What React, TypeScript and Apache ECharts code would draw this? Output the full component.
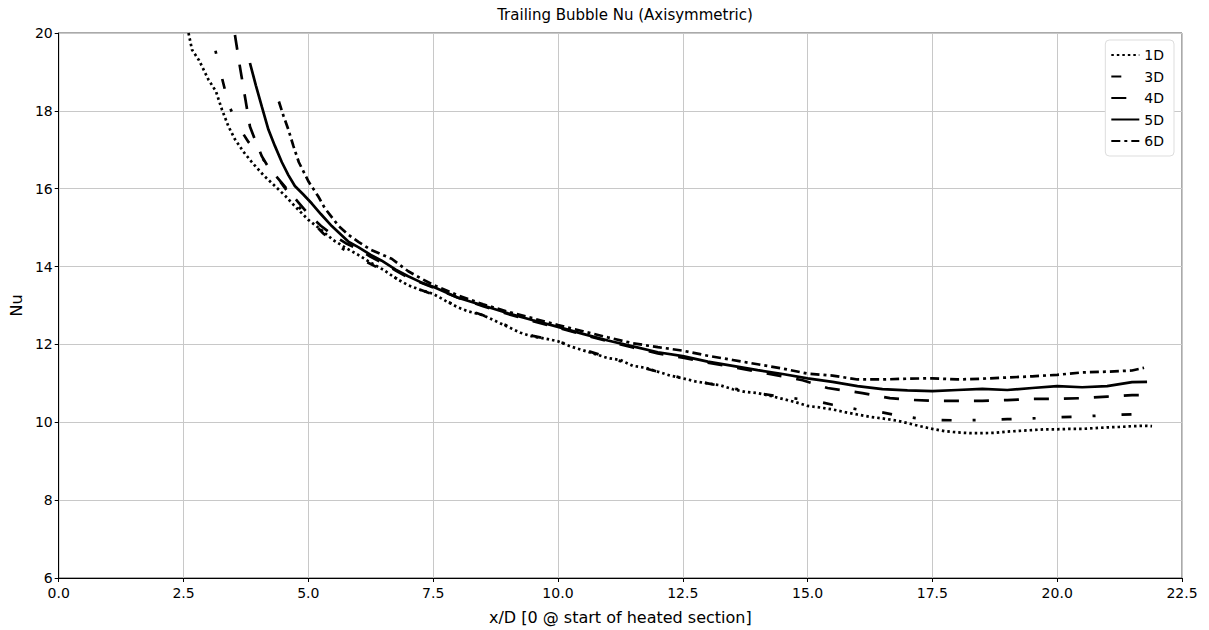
import React, { useEffect, useRef } from "react";
import * as echarts from "echarts";

const seriesNames = ["1D", "3D", "4D", "5D", "6D"];

const d1: number[][] = [
  [2.6, 20.0], [2.67, 19.57], [2.81, 19.3], [3.0, 18.8], [3.15, 18.5], [3.27, 18.03], [3.4, 17.6],
  [3.53, 17.27], [3.7, 16.95], [3.87, 16.68], [4.1, 16.35], [4.33, 16.07], [4.55, 15.8], [4.73, 15.55],
  [5.0, 15.2], [5.25, 14.95], [5.5, 14.68], [5.75, 14.48], [6.0, 14.3], [6.25, 14.1], [6.5, 13.92],
  [6.75, 13.7], [7.0, 13.52], [7.25, 13.4], [7.5, 13.3], [7.75, 13.12], [8.0, 12.95], [8.2, 12.85],
  [8.5, 12.75], [8.75, 12.6], [9.0, 12.45], [9.25, 12.3], [9.5, 12.2], [9.75, 12.15], [10.0, 12.08],
  [10.25, 11.95], [10.5, 11.85], [10.75, 11.75], [11.0, 11.65], [11.25, 11.6], [11.5, 11.45],
  [11.75, 11.4], [12.0, 11.3], [12.25, 11.2], [12.5, 11.13], [12.75, 11.05], [13.0, 11.0],
  [13.25, 10.95], [13.5, 10.85], [13.75, 10.78], [14.0, 10.75], [14.25, 10.68], [14.5, 10.6],
  [14.75, 10.52], [15.0, 10.42], [15.25, 10.38], [15.5, 10.33], [15.75, 10.26], [16.0, 10.2],
  [16.25, 10.14], [16.5, 10.1], [16.8, 10.04], [17.0, 9.98], [17.25, 9.9], [17.5, 9.83], [17.75, 9.77],
  [18.0, 9.74], [18.25, 9.72], [18.5, 9.72], [18.75, 9.73], [19.0, 9.76], [19.25, 9.78], [19.5, 9.8],
  [19.75, 9.82], [20.0, 9.82], [20.25, 9.83], [20.5, 9.83], [20.75, 9.85], [21.0, 9.87], [21.25, 9.88],
  [21.5, 9.9], [21.75, 9.91], [21.9, 9.9],
];

const d3: number[][] = [
  [2.95, 20.3], [3.13, 19.6], [3.23, 19.05], [3.33, 18.54], [3.43, 18.08], [3.6, 17.6], [3.8, 17.2],
  [4.03, 16.88], [4.2, 16.55], [4.37, 16.3], [4.6, 15.9], [4.8, 15.55], [5.0, 15.25], [5.3, 14.85],
  [5.63, 14.5], [5.97, 14.25], [6.5, 13.9], [7.0, 13.52], [7.5, 13.28], [8.0, 12.97], [8.5, 12.75],
  [9.0, 12.47], [9.5, 12.22], [10.0, 12.08], [10.5, 11.87], [11.0, 11.67], [11.5, 11.47], [12.0, 11.3],
  [12.5, 11.13], [13.0, 11.0], [13.5, 10.87], [14.0, 10.75], [14.5, 10.65], [15.15, 10.55],
  [15.5, 10.45], [16.0, 10.33], [16.35, 10.29], [16.75, 10.19], [17.2, 10.1], [17.5, 10.06],
  [18.0, 10.05], [18.5, 10.06], [19.0, 10.08], [19.5, 10.1], [20.0, 10.13], [20.5, 10.15],
  [21.0, 10.18], [21.6, 10.21],
];

const d4: number[][] = [
  [3.53, 19.95], [3.63, 19.13], [3.73, 18.37], [3.83, 17.6], [3.95, 17.2], [4.07, 16.83], [4.2, 16.55],
  [4.37, 16.3], [4.6, 15.95], [4.8, 15.65], [5.0, 15.35], [5.25, 15.05], [5.5, 14.8], [5.75, 14.6],
  [6.0, 14.45], [6.25, 14.25], [6.5, 14.08], [6.75, 13.9], [7.0, 13.72], [7.5, 13.46], [8.0, 13.2],
  [8.5, 12.98], [9.0, 12.78], [9.5, 12.6], [10.0, 12.43], [10.5, 12.25], [11.0, 12.08], [11.5, 11.92],
  [12.0, 11.77], [12.5, 11.66], [13.0, 11.53], [13.5, 11.42], [14.0, 11.3], [14.5, 11.18],
  [14.9, 11.08], [15.4, 10.88], [16.1, 10.75], [16.65, 10.62], [17.0, 10.58], [17.5, 10.55],
  [18.0, 10.55], [18.5, 10.55], [19.0, 10.57], [19.5, 10.6], [20.0, 10.6], [20.5, 10.62],
  [21.0, 10.66], [21.5, 10.7], [21.7, 10.7],
];

const d5: number[][] = [
  [3.83, 19.23], [3.95, 18.65], [4.07, 18.1], [4.2, 17.52], [4.33, 17.1], [4.47, 16.68], [4.6, 16.35],
  [4.73, 16.07], [4.9, 15.85], [5.07, 15.62], [5.25, 15.35], [5.47, 15.04], [5.81, 14.63], [6.0, 14.5],
  [6.25, 14.3], [6.47, 14.15], [6.75, 13.92], [7.0, 13.75], [7.25, 13.6], [7.5, 13.48], [8.0, 13.2],
  [8.5, 13.0], [9.0, 12.8], [9.5, 12.62], [10.0, 12.45], [10.5, 12.27], [11.0, 12.1], [11.5, 11.95],
  [12.0, 11.8], [12.5, 11.7], [13.0, 11.56], [13.5, 11.45], [14.0, 11.34], [14.5, 11.24],
  [15.0, 11.13], [15.5, 11.04], [16.0, 10.93], [16.5, 10.85], [17.0, 10.82], [17.5, 10.8],
  [18.0, 10.83], [18.5, 10.86], [19.0, 10.83], [19.5, 10.88], [20.0, 10.93], [20.5, 10.9],
  [21.0, 10.93], [21.5, 11.03], [21.8, 11.04],
];

const d6: number[][] = [
  [4.41, 18.24], [4.5, 17.88], [4.6, 17.52], [4.7, 17.1], [4.81, 16.68], [5.01, 16.17], [5.2, 15.8],
  [5.33, 15.5], [5.61, 15.04], [5.8, 14.82], [6.01, 14.63], [6.25, 14.43], [6.67, 14.2], [7.0, 13.88],
  [7.25, 13.7], [7.5, 13.53], [8.0, 13.26], [8.5, 13.03], [9.0, 12.84], [9.5, 12.67], [10.0, 12.5],
  [10.5, 12.34], [11.0, 12.18], [11.5, 12.03], [12.0, 11.93], [12.5, 11.84], [13.0, 11.71],
  [13.5, 11.6], [14.0, 11.49], [14.5, 11.38], [15.0, 11.25], [15.5, 11.2], [16.0, 11.1],
  [16.5, 11.1], [17.0, 11.12], [17.5, 11.13], [18.0, 11.1], [18.5, 11.12], [19.0, 11.15],
  [19.5, 11.18], [20.0, 11.22], [20.5, 11.28], [21.0, 11.3], [21.5, 11.33], [21.74, 11.4],
];

const seriesData = [d1, d3, d4, d5, d6];
const dashTypes: any[] = [
  [2.5, 3],
  [10, 21, 3, 26],
  [15, 15],
  "solid",
  [9, 4, 3, 4],
];

const xTicks = { min: 0, max: 22.5, interval: 2.5 };
const yTicks = { min: 6, max: 20, interval: 2 };

const FONT = "DejaVu Sans";

export default function App() {
  const ref = useRef<HTMLDivElement>(null);
  useEffect(() => {
    if (!ref.current) return;
    const chart = echarts.init(ref.current, undefined, { renderer: "svg" });
    chart.setOption({
      animation: false,
      backgroundColor: "#ffffff",
      textStyle: { fontFamily: FONT },
      title: {
        text: "Trailing Bubble Nu (Axisymmetric)",
        left: 620,
        textAlign: "center",
        top: 2,
        textStyle: { fontFamily: FONT, fontSize: 15, fontWeight: "normal", color: "#000" },
      },
      grid: {
        left: 57,
        right: 27,
        top: 33,
        bottom: 49,
        show: true,
        borderColor: "#555",
        borderWidth: 1,
      },
      legend: {
        orient: "vertical",
        right: 35,
        top: 40,
        itemWidth: 28,
        itemHeight: 14,
        itemGap: 7.5,
        padding: [8, 10, 8, 5],
        backgroundColor: "#fff",
        borderColor: "#ddd",
        borderWidth: 1,
        borderRadius: 4,
        itemStyle: { opacity: 0, borderWidth: 0 },
        textStyle: { fontFamily: FONT, fontSize: 14, color: "#000" },
        data: seriesNames,
      },
      xAxis: {
        type: "value",
        min: xTicks.min,
        max: xTicks.max,
        interval: xTicks.interval,
        name: "x/D [0 @ start of heated section]",
        nameLocation: "middle",
        nameGap: 31,
        nameTextStyle: { fontFamily: FONT, fontSize: 16, color: "#000" },
        axisLine: { lineStyle: { color: "#000", width: 1 } },
        axisTick: { show: true, length: 4, lineStyle: { color: "#000" } },
        axisLabel: {
          formatter: (v: number) => v.toFixed(1),
          fontFamily: FONT,
          fontSize: 14,
          color: "#000",
          margin: 8,
        },
        splitLine: { show: true, lineStyle: { color: "#c8c8c8", width: 1 } },
      },
      yAxis: {
        type: "value",
        min: yTicks.min,
        max: yTicks.max,
        interval: yTicks.interval,
        name: "Nu",
        nameLocation: "middle",
        nameGap: 32,
        nameRotate: 90,
        nameTextStyle: { fontFamily: FONT, fontSize: 16, color: "#000" },
        axisLine: { show: true, lineStyle: { color: "#000", width: 1 } },
        axisTick: { show: true, length: 4, lineStyle: { color: "#000" } },
        axisLabel: { fontFamily: FONT, fontSize: 14, color: "#000", margin: 6 },
        splitLine: { show: true, lineStyle: { color: "#c8c8c8", width: 1 } },
      },
      series: seriesNames.map((name, i) => ({
        name,
        type: "line",
        data: seriesData[i],
        symbol: "none",
        smooth: false,
        clip: true,
        lineStyle: { color: "#000", width: 2.7, type: dashTypes[i], cap: "butt" },
        itemStyle: { color: "#000" },
      })),
    });
    return () => chart.dispose();
  }, []);
  return (
    <div
      ref={ref}
      style={{ position: "fixed", left: 0, top: 0, width: 1209, height: 630, background: "#fff" }}
    />
  );
}
